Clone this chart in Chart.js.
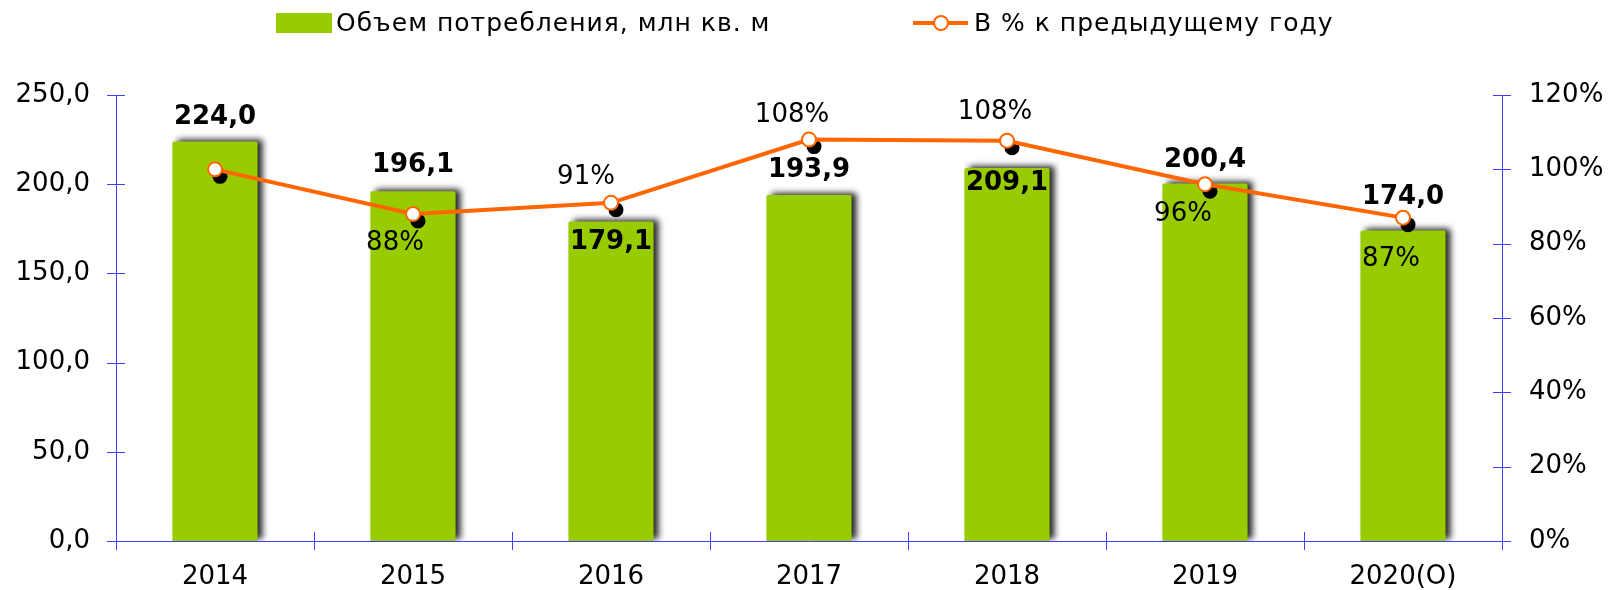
<!DOCTYPE html>
<html>
<head>
<meta charset="utf-8">
<script src="https://cdn.jsdelivr.net/npm/chart.js@4.4.1/dist/chart.umd.min.js"></script>
<style>
  html, body { margin: 0; padding: 0; background: #fff; }
  #wrap { width: 1608px; height: 590px; }
</style>
</head>
<body>
<div id="wrap"><canvas id="myChart"></canvas></div>
<script>
const labels = ["2014", "2015", "2016", "2017", "2018", "2019", "2020(О)"];
const volume = [224.0, 196.1, 179.1, 193.9, 209.1, 200.4, 174.0];
const percent = [100, 88, 91, 108, 107.7, 96, 87];
const percentText = ["", "88%", "91%", "108%", "108%", "96%", "87%"];
const legendNames = ["Объем потребления, млн кв. м", "В % к предыдущему году"];

// label placement (px, relative to the bar top / marker)
const volLabelDy = [-24, -26, 21, -25, 15, -23, -33];
const pctLabelDx = [0, -18, -25, -17, -12, -22, -12];
const pctLabelDy = [0, 29, -26, -24, -28, 30, 42];

const GREEN = "#99cc00";
const ORANGE = "#ff6600";
const BLUE = "#3f3fff";
const FONT = "'DejaVu Sans', Verdana, sans-serif";

const ctx = document.getElementById("myChart").getContext("2d");

const decor = {
  id: "decor",
  beforeDatasetDraw(chart, args) {
    const c = chart.ctx;
    if (args.index === 0) {
      c.save();
      c.shadowColor = "rgba(0,0,0,0.85)";
      c.shadowBlur = 6;
      c.shadowOffsetX = 5;
      c.shadowOffsetY = -2;
    }
    if (args.index === 1) {
      // black drop dots under the markers
      c.save();
      c.fillStyle = "#000";
      args.meta.data.forEach(p => {
        c.beginPath();
        c.arc(p.x + 5, p.y + 7, 7.5, 0, Math.PI * 2);
        c.fill();
      });
      c.restore();
    }
  },
  afterDatasetDraw(chart, args) {
    if (args.index === 0) chart.ctx.restore();
  },
  afterDraw(chart) {
    const c = chart.ctx;
    const area = chart.chartArea;
    const y = chart.scales.y, y1 = chart.scales.y1;
    c.save();
    c.strokeStyle = BLUE;
    c.lineWidth = 1;
    // crossing tick marks
    y.ticks.forEach((t, i) => {
      const py = Math.round(y.getPixelForTick(i)) + 0.5;
      c.beginPath(); c.moveTo(area.left - 9, py); c.lineTo(area.left + 9, py); c.stroke();
    });
    y1.ticks.forEach((t, i) => {
      const py = Math.round(y1.getPixelForTick(i)) + 0.5;
      c.beginPath(); c.moveTo(area.right - 9, py); c.lineTo(area.right + 9, py); c.stroke();
    });
    const step = (area.right - area.left) / labels.length;
    for (let i = 0; i <= labels.length; i++) {
      const px = Math.round(area.left + i * step) + 0.5;
      c.beginPath(); c.moveTo(px, area.bottom - 9); c.lineTo(px, area.bottom + 9); c.stroke();
    }

    // bar value labels
    c.fillStyle = "#000";
    c.textAlign = "center";
    c.textBaseline = "middle";
    c.font = "bold 26px " + FONT;
    chart.getDatasetMeta(0).data.forEach((b, i) => {
      c.fillText(volume[i].toFixed(1).replace(".", ","), b.x, b.y + volLabelDy[i]);
    });
    // percent labels
    c.font = "26px " + FONT;
    chart.getDatasetMeta(1).data.forEach((p, i) => {
      if (percentText[i]) c.fillText(percentText[i], p.x + pctLabelDx[i], p.y + pctLabelDy[i]);
    });

    // legend
    c.textAlign = "left";
    c.font = "25px " + FONT;
    c.letterSpacing = "1px";
    c.fillStyle = GREEN;
    c.fillRect(276, 13, 56, 20);
    c.fillStyle = "#000";
    c.fillText(legendNames[0], 336, 24);
    c.strokeStyle = ORANGE;
    c.lineWidth = 4;
    c.beginPath(); c.moveTo(913, 23); c.lineTo(968, 23); c.stroke();
    c.lineWidth = 2;
    c.fillStyle = "#fff";
    c.beginPath(); c.arc(941, 23, 7, 0, Math.PI * 2); c.fill(); c.stroke();
    c.fillStyle = "#000";
    c.fillText(legendNames[1], 974, 24);
    c.restore();
  }
};

const data = {
  labels,
  datasets: [
    {
      type: "bar",
      label: legendNames[0],
      data: volume,
      yAxisID: "y",
      backgroundColor: GREEN,
      borderRadius: 2,
      categoryPercentage: 1,
      barPercentage: 0.43,
      order: 2
    },
    {
      type: "line",
      label: legendNames[1],
      data: percent,
      yAxisID: "y1",
      borderColor: ORANGE,
      borderWidth: 4,
      pointRadius: 7,
      pointBorderWidth: 2,
      pointBackgroundColor: "#fff",
      pointBorderColor: ORANGE,
      tension: 0,
      order: 1
    }
  ]
};

const config = {
  data: data,
  options: {
    responsive: true,
    maintainAspectRatio: false,
    animation: false,
    layout: { padding: { top: 95, left: 0, right: 0, bottom: 0 } },
    plugins: { legend: { display: false }, tooltip: { enabled: false } },
    scales: {
      x: {
        grid: { display: false, drawTicks: false },
        border: { display: true, color: BLUE, width: 1 },
        ticks: { color: "#000", font: { family: FONT, size: 26 }, padding: 21, maxRotation: 0 },
        afterFit: s => { s.height = 49; }
      },
      y: {
        position: "left",
        min: 0, max: 250,
        grid: { display: false, drawTicks: false },
        border: { display: true, color: BLUE, width: 1 },
        ticks: {
          stepSize: 50, color: "#000", padding: 26,
          font: { family: FONT, size: 26 },
          callback: v => v.toFixed(1).replace(".", ",")
        },
        afterFit: s => { s.width = 116; }
      },
      y1: {
        position: "right",
        min: 0, max: 120,
        grid: { display: false, drawTicks: false },
        border: { display: true, color: BLUE, width: 1 },
        ticks: {
          stepSize: 20, color: "#000", padding: 27,
          font: { family: FONT, size: 26 },
          callback: v => v + "%"
        },
        afterFit: s => { s.width = 106; }
      }
    }
  },
  plugins: [decor]
};

const myChart = new Chart(ctx, config);
</script>
</body>
</html>
